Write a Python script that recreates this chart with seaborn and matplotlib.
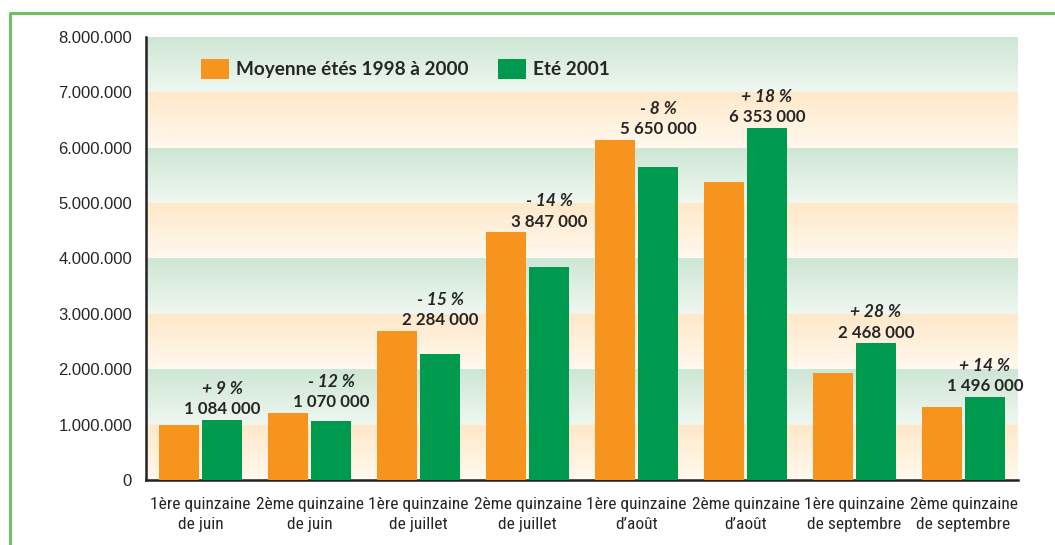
import numpy as np
import pandas as pd
import matplotlib
matplotlib.use('Agg')
import matplotlib.pyplot as plt
from matplotlib import font_manager
from matplotlib.colors import to_rgb
from matplotlib.lines import Line2D
import seaborn as sns

quinzaines = [
    '1ère quinzaine\nde juin', '2ème quinzaine\nde juin',
    '1ère quinzaine\nde juillet', '2ème quinzaine\nde juillet',
    '1ère quinzaine\nd\u2019août', '2ème quinzaine\nd\u2019août',
    '1ère quinzaine\nde septembre', '2ème quinzaine\nde septembre',
]
moyenne_98_00 = [995000, 1216000, 2687000, 4473000, 6141000, 5384000, 1928000, 1312000]
ete_2001 = [1084000, 1070000, 2284000, 3847000, 5650000, 6353000, 2468000, 1496000]
evolution = ['+ 9 %', '- 12 %', '- 15 %', '- 14 %', '- 8 %', '+ 18 %', '+ 28 %', '+ 14 %']
valeurs_txt = ['1 084 000', '1 070 000', '2 284 000', '3 847 000',
               '5 650 000', '6 353 000', '2 468 000', '1 496 000']
series = ['Moyenne étés 1998 à 2000', 'Eté 2001']

orange = '#f7941e'
vert = '#009a4e'

sns.set_style('white')
installed = {f.name for f in font_manager.fontManager.ttflist}


def pick(cands, default):
    for c in cands:
        if c in installed:
            return c
    return default


narrow_font = pick(['Liberation Sans Narrow', 'Roboto Condensed', 'PT Sans Narrow', 'Archivo Narrow'],
                   'Liberation Sans')
tick_font = 'Liberation Sans' if 'Liberation Sans' in installed else 'DejaVu Sans'
label_font = 'Lato' if 'Lato' in installed else 'DejaVu Sans'
plt.rcParams['font.family'] = [tick_font, 'DejaVu Sans']

df = pd.DataFrame({
    'quinzaine': quinzaines * 2,
    'voyageurs': moyenne_98_00 + ete_2001,
    'serie': [series[0]] * len(quinzaines) + [series[1]] * len(quinzaines),
})

fig = plt.figure(figsize=(10.55, 5.45), dpi=100)
ax = fig.add_axes([146 / 1055, 65 / 545, 872 / 1055, 443 / 545])

# bandes de fond en dégradé
n = len(quinzaines)
for k in range(8):
    if k % 2 == 0:
        top, bot = to_rgb('#ffe8c9'), to_rgb('#fff9ee')
    else:
        top, bot = to_rgb('#cde6d5'), to_rgb('#f0f7f0')
    grad = np.linspace(0, 1, 64)[:, None, None]
    img = np.array(bot)[None, None, :] * (1 - grad) + np.array(top)[None, None, :] * grad
    ax.imshow(img, extent=(-0.5, n - 0.5, k * 1e6, (k + 1) * 1e6),
              origin='lower', aspect='auto', zorder=0)

sns.barplot(data=df, x='quinzaine', y='voyageurs', hue='serie',
            palette=[orange, vert], width=0.79, gap=0.07, saturation=1,
            linewidth=0, ax=ax, zorder=3)

ax.set_xlim(-0.5, n - 0.5)
ax.set_ylim(0, 8e6)
ax.set_xlabel('')
ax.set_ylabel('')

yt = np.arange(0, 8000001, 1000000)
ax.set_yticks(yt)
ax.set_yticklabels([f'{int(v):,}'.replace(',', '.') for v in yt], fontsize=12)
ax.tick_params(axis='y', direction='in', length=15, width=1.5, pad=10, color='black')
ax.set_xticks(range(n))
ax.set_xticklabels(quinzaines, fontsize=12.5, linespacing=1.42, family=[narrow_font, 'DejaVu Sans'])
ax.set_xticks(np.arange(-0.5, n, 1), minor=True)
ax.tick_params(axis='x', which='major', length=0, pad=12)
ax.tick_params(axis='x', which='minor', direction='in', length=8, width=1.5, color='#333333')

for s in ['top', 'right']:
    ax.spines[s].set_visible(False)
for s in ['left', 'bottom']:
    ax.spines[s].set_linewidth(1.8)
    ax.spines[s].set_color('#222222')

for i in range(n):
    xg = i + 0.1975
    ymax = max(moyenne_98_00[i], ete_2001[i])
    ax.annotate(valeurs_txt[i], (xg, ymax), xytext=(0, 2), textcoords='offset points',
                ha='center', va='bottom', fontsize=12.2, family=label_font,
                fontweight='bold', zorder=5)
    ax.annotate(evolution[i], (xg, ymax), xytext=(0, 16.5), textcoords='offset points',
                ha='center', va='bottom', fontsize=12.5, family=label_font,
                fontweight='bold', fontstyle='italic', zorder=5)

handles, labels = ax.get_legend_handles_labels()
ax.legend(handles, labels, ncol=2, loc='center left', bbox_to_anchor=(0.063, 0.928),
          frameon=False, borderpad=0, borderaxespad=0, handlelength=1.45,
          handleheight=1.2, handletextpad=0.4, columnspacing=1.55,
          prop={'family': label_font, 'weight': 'bold', 'size': 13.7})

# cadre vert
fig.add_artist(Line2D([10 / 1055, 10 / 1055, 1.0], [0.0, 1 - 13 / 545, 1 - 13 / 545],
                      transform=fig.transFigure, color='#6cc35c', linewidth=2.2))

fig.savefig('out.png', dpi=100, facecolor='white')
